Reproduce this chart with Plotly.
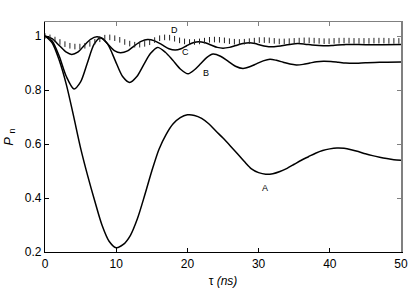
import plotly.graph_objects as go

# ---- data ----
tA = [0, 1, 2, 3, 4, 5, 6, 7, 8, 9, 10, 11, 12, 13, 14, 15, 16, 17, 18, 19, 20, 21, 22, 23, 24, 25,
      26, 27, 28, 29, 30, 31, 32, 33, 34, 35, 36, 37, 38, 39, 40, 41, 42, 43, 44, 45, 46, 47, 48, 49, 50]
pA = [1.0, 0.975, 0.91, 0.82, 0.705, 0.585, 0.482, 0.388, 0.3, 0.24, 0.216, 0.228, 0.262, 0.325, 0.41,
      0.5, 0.58, 0.635, 0.675, 0.698, 0.708, 0.706, 0.695, 0.675, 0.648, 0.622, 0.594, 0.565, 0.535,
      0.508, 0.494, 0.488, 0.49, 0.498, 0.51, 0.525, 0.54, 0.553, 0.566, 0.576, 0.582, 0.585, 0.584,
      0.579, 0.572, 0.564, 0.557, 0.551, 0.546, 0.542, 0.54]

tB = [0, 1, 2, 3, 4.07, 5, 5.95, 6.9, 7.8, 8.8, 9.85, 10.9, 11.9, 12.9, 13.85, 14.8, 15.8, 16.9, 17.95,
      19.0, 20.1, 21.0, 21.85, 22.7, 23.6, 24.65, 25.7, 26.75, 27.8, 28.75, 29.7, 30.65, 31.6, 32.5,
      33.45, 34.4, 35.3, 36.25, 37.2, 38.15, 39.1, 40.15, 41.2, 42.25, 43.3, 45, 47, 50]
pB = [1.0, 0.982, 0.925, 0.85, 0.804, 0.83, 0.9, 0.97, 0.994, 0.97, 0.91, 0.85, 0.828, 0.85, 0.893,
      0.935, 0.958, 0.94, 0.91, 0.878, 0.86, 0.875, 0.897, 0.92, 0.933, 0.925, 0.907, 0.888, 0.88,
      0.886, 0.897, 0.908, 0.914, 0.91, 0.903, 0.896, 0.893, 0.895, 0.9, 0.905, 0.907, 0.906, 0.903,
      0.9, 0.899, 0.901, 0.903, 0.904]

tC = [0, 1, 2, 3, 3.75, 4.6, 5.5, 6.4, 7.3, 8.1, 8.9, 9.8, 10.6, 11.6, 12.5, 13.5, 14.4, 15.4, 16.4,
      17.4, 18.3, 19.1, 19.9, 20.8, 21.6, 22.5, 23.3, 24.2, 25.0, 25.9, 26.8, 27.8, 28.7, 29.5, 30.2,
      31.0, 31.8, 32.7, 33.7, 34.6, 35.5, 36.5, 37.5, 38.5, 39.4, 40.3, 41.1, 42.0, 42.8, 45, 47.5, 50]
pC = [1.0, 0.99, 0.965, 0.94, 0.932, 0.94, 0.965, 0.988, 0.997, 0.99, 0.968, 0.945, 0.938, 0.945,
      0.963, 0.98, 0.987, 0.982, 0.968, 0.953, 0.948, 0.953, 0.964, 0.975, 0.979, 0.975, 0.967, 0.958,
      0.955, 0.958, 0.965, 0.972, 0.975, 0.972, 0.967, 0.962, 0.96, 0.962, 0.966, 0.97, 0.972, 0.97,
      0.967, 0.965, 0.964, 0.965, 0.967, 0.968, 0.969, 0.968, 0.968, 0.969]

tD = [0.0, 0.7, 1.4, 2.1, 2.8, 3.5, 4.2, 4.9, 5.6, 6.3, 7.0, 7.7, 8.4, 9.1, 9.8, 10.5, 11.2, 11.9,
      12.6, 13.3, 14.0, 14.7, 15.4, 16.1, 16.8, 17.5, 18.2, 18.9, 19.6, 20.3, 21.0, 21.7, 22.4, 23.1,
      23.8, 24.5, 25.2, 25.9, 26.6, 27.3, 28.0, 28.7, 29.4, 30.1, 30.8, 31.5, 32.2, 32.9, 33.6, 34.3,
      35.0, 35.7, 36.4, 37.1, 37.8, 38.5, 39.2, 39.9, 40.6, 41.3, 42.0, 42.7, 43.4, 44.1, 44.8, 45.5,
      46.2, 46.9, 47.6, 48.3, 49.0, 49.7]
pD = [1.0, 0.995, 0.987, 0.978, 0.97, 0.964, 0.961, 0.961, 0.964, 0.971, 0.979, 0.988, 0.994, 0.995,
      0.992, 0.986, 0.978, 0.972, 0.968, 0.968, 0.971, 0.977, 0.985, 0.992, 0.995, 0.994, 0.99, 0.984,
      0.98, 0.978, 0.978, 0.98, 0.983, 0.986, 0.987, 0.986, 0.984, 0.981, 0.979, 0.978, 0.979, 0.981,
      0.983, 0.985, 0.985, 0.984, 0.982, 0.98, 0.98, 0.981, 0.982, 0.983, 0.984, 0.984, 0.983, 0.982,
      0.981, 0.981, 0.982, 0.983, 0.983, 0.983, 0.982, 0.982, 0.982, 0.982, 0.983, 0.983, 0.983,
      0.982, 0.982, 0.982]

label_text = ["A", "B", "C", "D"]
label_t = [30.9, 22.6, 19.7, 18.2]
label_p = [0.437, 0.863, 0.941, 1.022]

x_ticks = [0, 10, 20, 30, 40, 50]
y_ticks = [0.2, 0.4, 0.6, 0.8, 1.0]
y_ticktext = ["0.2", "0.4", "0.6", "0.8", "1"]
x_range = [0, 50]
y_range = [0.2, 1.052]

FONT = "Liberation Sans, Arial, Helvetica, sans-serif"

fig = go.Figure()
for t, p in [(tA, pA), (tB, pB), (tC, pC)]:
    fig.add_trace(go.Scatter(x=t, y=p, mode="lines",
                             line=dict(color="black", width=1.5, shape="spline", smoothing=0.8),
                             showlegend=False, hoverinfo="skip"))
fig.add_trace(go.Scatter(x=tD, y=pD, mode="markers",
                         marker=dict(symbol="line-ns", size=4, color="#222",
                                     line=dict(color="#222", width=1)),
                         showlegend=False, hoverinfo="skip"))
# invisible trace to carry the mirrored (top/right) axes
fig.add_trace(go.Scatter(x=[x_range[0]], y=[y_range[0]], xaxis="x2", yaxis="y2", mode="markers",
                         marker=dict(opacity=0), showlegend=False, hoverinfo="skip"))

for txt, t, p in zip(label_text, label_t, label_p):
    fig.add_annotation(x=t, y=p, text=txt, showarrow=False,
                       font=dict(family=FONT, size=9, color="black"))

fig.update_layout(
    width=415, height=292,
    margin=dict(l=45, r=14, t=22, b=40, autoexpand=False),
    paper_bgcolor="white", plot_bgcolor="white",
    font=dict(family=FONT, size=12, color="black"),
    xaxis=dict(range=x_range, tickvals=x_ticks, ticks="inside", ticklen=4, tickcolor="black",
               showline=True, linecolor="black", linewidth=1.2, showgrid=False, zeroline=False,
               tickfont=dict(size=12), automargin=False,
               title=dict(text="τ <i>(ns)</i>", standoff=7, font=dict(size=12))),
    yaxis=dict(range=y_range, tickvals=y_ticks, ticktext=y_ticktext, ticks="inside", ticklen=4,
               tickcolor="black", showline=True, linecolor="black", linewidth=1.2,
               showgrid=False, zeroline=False, tickfont=dict(size=12), automargin=False,
               title=dict(text="<i>P</i> <sub>n</sub>", standoff=8, font=dict(size=13))),
    xaxis2=dict(range=x_range, tickvals=x_ticks, overlaying="x", side="top", ticks="inside",
                ticklen=4, tickcolor="#808080", showline=True, linecolor="#808080", linewidth=1.2,
                showticklabels=False, showgrid=False, zeroline=False, automargin=False),
    yaxis2=dict(range=y_range, tickvals=y_ticks, overlaying="y", side="right", ticks="inside",
                ticklen=4, tickcolor="#808080", showline=True, linecolor="#808080", linewidth=1.5,
                showticklabels=False, showgrid=False, zeroline=False, automargin=False),
)

fig.write_html("out.html", config={"displayModeBar": False},
               post_script="document.body.style.margin='0';")
